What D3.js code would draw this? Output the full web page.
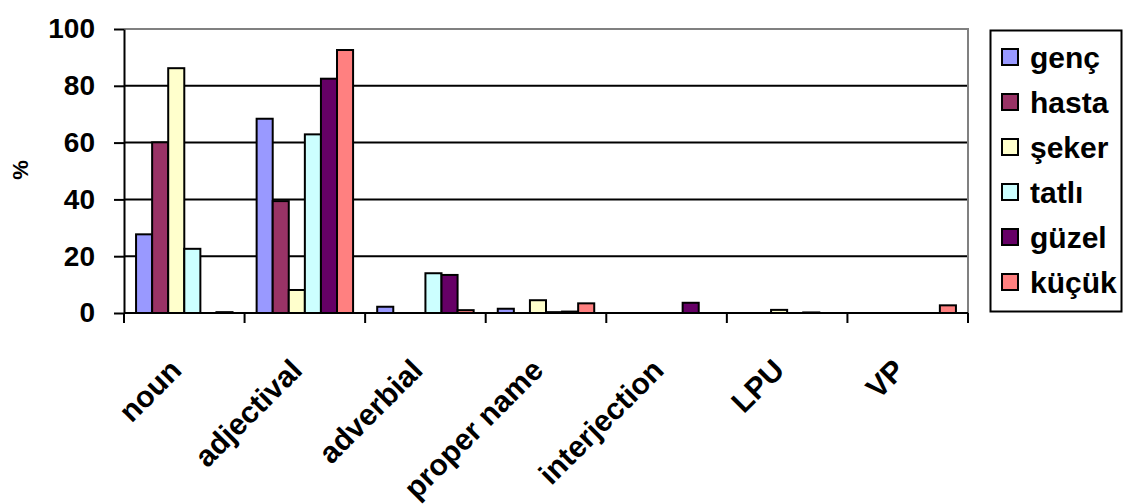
<!DOCTYPE html>
<html>
<head>
<meta charset="utf-8">
<script src="https://cdn.jsdelivr.net/npm/d3@7"></script>
<style>
  body { margin: 0; background: #fff; }
  svg { display: block; font-family: "Liberation Sans", Arial, sans-serif; font-weight: bold; }
</style>
</head>
<body>
<svg id="chart" width="1126" height="504"></svg>
<script>
const categories = ["noun", "adjectival", "adverbial", "proper name", "interjection", "LPU", "VP"];
const seriesNames = ["genç", "hasta", "şeker", "tatlı", "güzel", "küçük"];
const seriesColors = ["#9999FF", "#993366", "#FFFFCC", "#CCFFFF", "#660066", "#FF8080"];

const genc = [27.7, 68.4, 2.2, 1.5, 0, 0, 0];
const hasta = [60.1, 39.4, 0, 0, 0, 0, 0];
const seker = [86.2, 8.1, 0, 4.5, 0, 1.1, 0];
const tatli = [22.6, 62.9, 14.0, 0.3, 0, 0, 0];
const guzel = [0, 82.5, 13.4, 0.5, 3.6, 0.2, 0];
const kucuk = [0.3, 92.6, 1.0, 3.4, 0, 0, 2.7];

const yTicks = [0, 20, 40, 60, 80, 100];

const seriesValues = [genc, hasta, seker, tatli, guzel, kucuk];

const svg = d3.select("#chart");
const plot = { left: 124, right: 968, top: 29, bottom: 313 };

const x0 = d3.scaleBand().domain(categories).range([plot.left, plot.right]).padding(0);
const x1 = d3
  .scaleBand()
  .domain(seriesNames)
  .range([0, x0.bandwidth()])
  .paddingInner(0)
  .paddingOuter(0.75);

const y = d3.scaleLinear().domain([0, 100]).range([plot.bottom, plot.top]);

// gridlines
svg
  .append("g")
  .selectAll("line")
  .data(yTicks.filter((d) => d > 0 && d < 100))
  .join("line")
  .attr("x1", plot.left)
  .attr("x2", plot.right)
  .attr("y1", (d) => y(d))
  .attr("y2", (d) => y(d))
  .attr("stroke", "#000")
  .attr("stroke-width", 2);

// plot area border (top + right)
svg
  .append("path")
  .attr("d", `M${plot.left},${y(100)}H${plot.right}V${plot.bottom}`)
  .attr("fill", "none")
  .attr("stroke", "#808080")
  .attr("stroke-width", 2);

// bars
const rows = categories.map((c, i) => ({
  cat: c,
  vals: seriesNames.map((s, j) => ({ s, color: seriesColors[j], v: seriesValues[j][i] })),
}));

svg
  .append("g")
  .selectAll("g")
  .data(rows)
  .join("g")
  .attr("transform", (d) => `translate(${x0(d.cat)},0)`)
  .selectAll("rect")
  .data((d) => d.vals.filter((e) => e.v > 0))
  .join("rect")
  .attr("x", (d) => x1(d.s))
  .attr("y", (d) => y(d.v))
  .attr("width", x1.bandwidth())
  .attr("height", (d) => y(0) - y(d.v))
  .attr("fill", (d) => d.color)
  .attr("stroke", "#000")
  .attr("stroke-width", 2);

// y axis
const yAxis = svg
  .append("g")
  .attr("transform", `translate(${plot.left},0)`)
  .call(d3.axisLeft(y).tickValues(yTicks).tickSize(10).tickSizeOuter(0).tickPadding(19));
yAxis.select(".domain").attr("stroke", "#000").attr("stroke-width", 2);
yAxis.selectAll(".tick line").attr("stroke", "#000").attr("stroke-width", 2);
yAxis
  .selectAll(".tick text")
  .attr("fill", "#000")
  .style("font-family", "'Liberation Sans', Arial, sans-serif")
  .style("font-weight", "bold")
  .style("font-size", "28px");

// x axis
const xAxisG = svg.append("g");
xAxisG
  .append("line")
  .attr("x1", plot.left)
  .attr("x2", plot.right)
  .attr("y1", plot.bottom)
  .attr("y2", plot.bottom)
  .attr("stroke", "#000")
  .attr("stroke-width", 2);

const boundaries = categories.map((c) => x0(c)).concat([plot.right]);
xAxisG
  .selectAll("line.tick")
  .data(boundaries)
  .join("line")
  .attr("class", "tick")
  .attr("x1", (d) => d)
  .attr("x2", (d) => d)
  .attr("y1", plot.bottom)
  .attr("y2", plot.bottom + 10)
  .attr("stroke", "#000")
  .attr("stroke-width", 2);

xAxisG
  .selectAll("text")
  .data(categories)
  .join("text")
  .attr("transform", (d) => `translate(${x0(d) + x0.bandwidth() / 2 - 1},372) rotate(-45)`)
  .attr("text-anchor", "end")
  .style("font-size", "30px")
  .text((d) => d);

// y axis title
svg
  .append("text")
  .attr("transform", "translate(20,170) rotate(-90)")
  .attr("text-anchor", "middle")
  .attr("dy", "0.35em")
  .style("font-size", "22px")
  .text("%");

// legend
const legend = svg.append("g");
legend
  .append("rect")
  .attr("x", 990.5)
  .attr("y", 30.5)
  .attr("width", 131)
  .attr("height", 281)
  .attr("fill", "#fff")
  .attr("stroke", "#000")
  .attr("stroke-width", 2);

const items = legend
  .selectAll("g")
  .data(seriesNames)
  .join("g")
  .attr("transform", (d, i) => `translate(1002,${57 + i * 45})`);

items
  .append("rect")
  .attr("x", 0)
  .attr("y", -8)
  .attr("width", 16)
  .attr("height", 16)
  .attr("fill", (d, i) => seriesColors[i])
  .attr("stroke", "#000")
  .attr("stroke-width", 2);

items
  .append("text")
  .attr("x", 28)
  .attr("dy", "0.35em")
  .style("font-size", "30px")
  .text((d) => d);
</script>
</body>
</html>
